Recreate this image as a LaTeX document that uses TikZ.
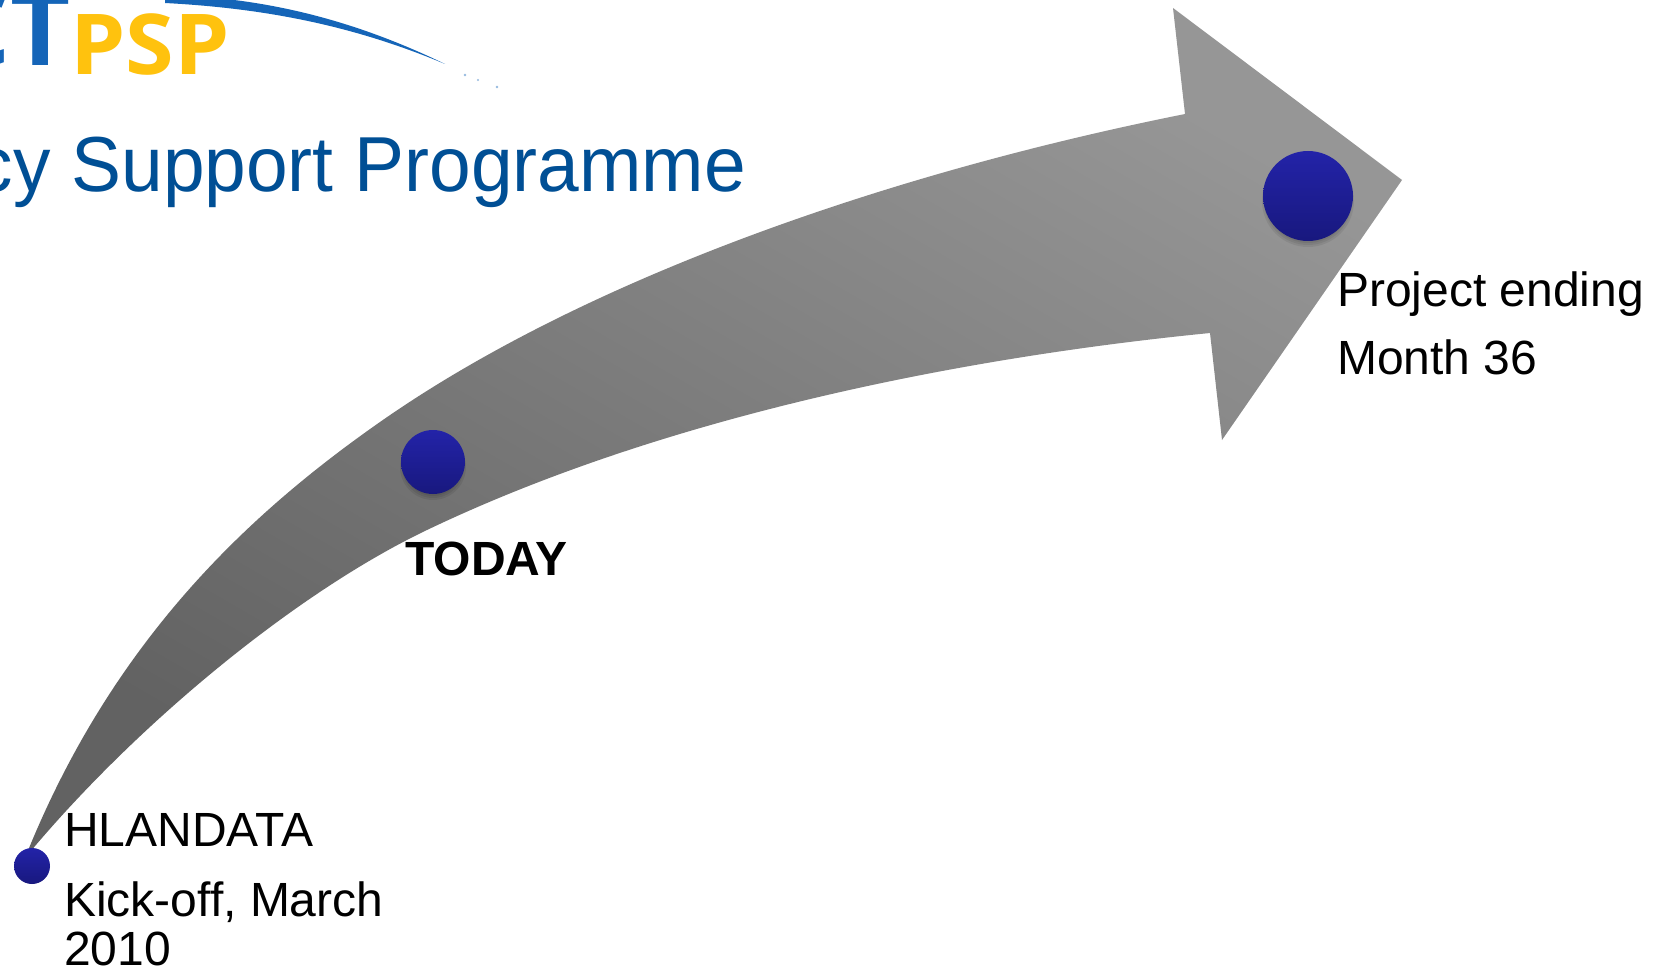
\documentclass[tikz,border=0pt]{standalone}
\usepackage{graphicx}
\usepackage{fontspec}
\setmainfont{Liberation Sans}
\newfontfamily\logofont{Open Sans}
\definecolor{titleblue}{HTML}{004F95}
\definecolor{logoblue}{HTML}{1565B8}
\definecolor{logoyellow}{HTML}{FFC20E}
\definecolor{dotTop}{HTML}{2323A8}
\definecolor{dotBot}{HTML}{18187E}
\definecolor{arrowLight}{HTML}{969696}
\definecolor{arrowDark}{HTML}{626262}
\tikzset{
  dot/.style={circle,inner sep=0pt,draw=none,top color=dotTop,bottom color=dotBot},
  lab/.style={anchor=base west,inner sep=0pt,font=\fontsize{48}{48}\selectfont,text=black},
  softshadow/.style={fill=black,opacity=0.07,draw=none}
}
\begin{document}
\begin{tikzpicture}[x=1pt,y=-1pt]
\useasboundingbox (0,0) rectangle (1667,968);
\clip (0,0) rectangle (1667,968);
\fill[white] (0,0) rectangle (1667,968);
% logo
\node[anchor=base east,inner sep=0pt,text=logoblue,font=\logofont\bfseries\fontsize{104}{104}\selectfont] (logoa) at (71,66) {CT};
\node[anchor=base west,inner sep=0pt,text=logoyellow,font=\logofont\bfseries\fontsize{84}{84}\selectfont] (logob) at (70,75) {\scalebox{1.05}[1]{PSP}};
\fill[logoblue] (165,-5) .. controls (260,-3) and (350,18) .. (445,64) .. controls (350,24) and (260,8) .. (165,3) -- cycle;
\fill[logoblue,opacity=.45] (465,75) circle (1.3) (478,80) circle (1.1) (497,87) circle (1.3);
% title
\node[anchor=base east,inner sep=0pt,text=titleblue,font=\fontsize{78}{78}\selectfont] (title) at (746,192) {\scalebox{0.96}[1]{cy Support Programme}};
% arrow
\shade[top color=arrowLight,bottom color=arrowDark,shading angle=-30]
  (25,858) .. controls (112,640) and (250,513) .. (380,422)
  .. controls (580,282) and (880,175) .. (1185,114)
  -- (1173,8) -- (1402,180) -- (1222,440) -- (1210,333)
  .. controls (947,359) and (657,420) .. (427,530)
  .. controls (297,592) and (135,725) .. (25,858) -- cycle;
% dots
\foreach \r in {-3,-1,1}{
  \fill[softshadow] (1308,201) circle (45+\r);
  \fill[softshadow] (433,467) circle (32+\r);
}
\node[dot,minimum size=90pt] (end) at (1308,196) {};
\node[dot,minimum size=64pt] (today) at (433,462) {};
\node[dot,minimum size=36pt] (start) at (32,866) {};
% labels
\node[lab] (l1) at (1337,306) {Project ending};
\node[lab] (l2) at (1337,374) {Month 36};
\node[lab,font=\bfseries\fontsize{48}{48}\selectfont] (l3) at (405,575) {TODAY};
\node[lab] (l4) at (64,846) {HLANDATA};
\node[lab] (l5) at (64,916) {Kick-off, March};
\node[lab] (l6) at (64,965) {2010};
\end{tikzpicture}
\end{document}
